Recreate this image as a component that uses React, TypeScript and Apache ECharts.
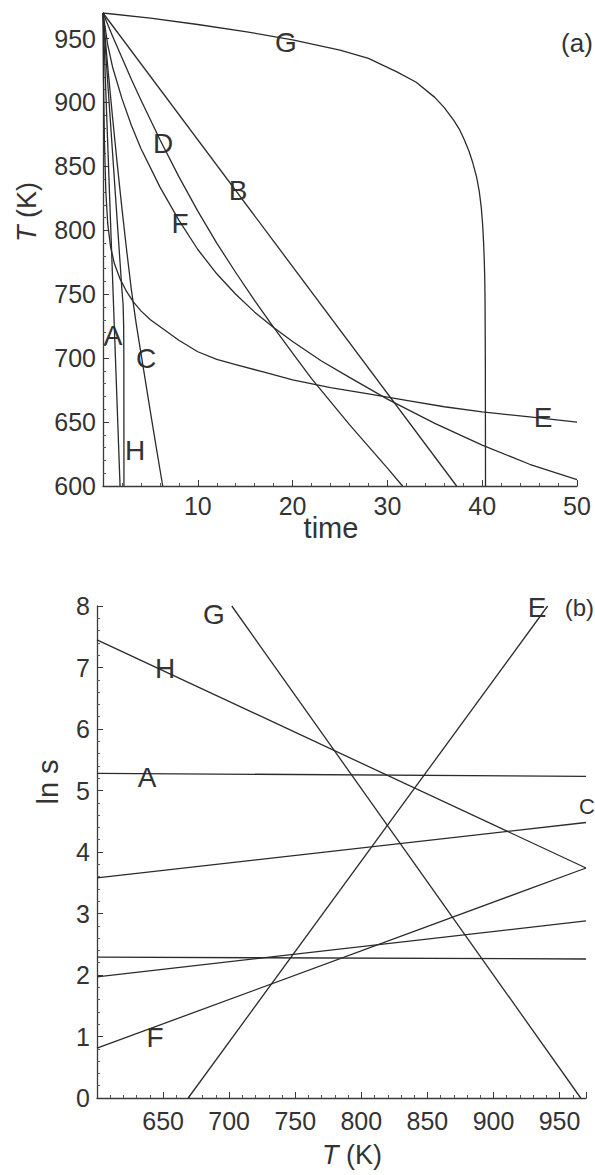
import React, { useEffect, useRef } from "react";
import * as echarts from "echarts";

// ---- Panel (a): temperature vs time ----
const timeTicks = [0, 10, 20, 30, 40, 50];
const tempTicksA = [600, 650, 700, 750, 800, 850, 900, 950];

const aG_t = [0, 5, 10, 15, 20, 25, 28, 31, 33, 35, 36, 37, 37.6, 38.1, 38.6, 39.0, 39.4, 39.7, 39.9, 40.05, 40.15, 40.22, 40.27, 40.3, 40.33, 40.35];
const aG_T = [970, 966, 961, 955.5, 949, 941, 934.5, 924, 916, 904, 896, 886, 879, 871, 862, 853, 842, 830, 818, 804, 790, 776, 762, 745, 700, 600];

const aE_t = [0, 0.05, 0.15, 0.3, 0.5, 0.8, 1.2, 1.8, 2.5, 3.2, 4, 5, 6.5, 8, 10, 12, 14, 17, 20, 24, 28, 32, 36, 40, 45, 50];
const aE_T = [970, 920, 870, 830, 805, 787, 774, 762, 752, 744, 737, 730, 722, 714, 705, 699, 695, 689, 683, 677, 672, 667, 662, 658, 654, 650];

const aC_t = [0, 0.5, 1, 1.5, 2, 2.5, 3, 3.5, 4, 4.5, 5, 5.6, 6.3];
const aC_T = [970, 928, 889, 852, 817, 784, 753, 727, 704, 681, 658, 631, 600];

const aD_t = [0, 1, 2, 3, 4, 6, 8, 10, 12, 14, 16, 18, 20, 22, 24, 26, 28, 30, 31.6];
const aD_T = [970, 952, 935, 918, 902, 871, 842, 815, 790, 767, 745, 724, 704, 684, 666, 648, 631, 614, 600];

const aF_t = [0, 0.5, 1, 2, 3, 4, 6, 8, 10, 12, 14, 16, 18, 20, 23, 26, 30, 35, 40, 45, 50];
const aF_T = [970, 945, 928, 903, 882, 864, 834, 808, 785, 766, 750, 736, 724, 713, 698, 685, 668, 649, 632, 617, 605];

const aB_t = [0, 37.3];
const aB_T = [970, 600];

const aA_t = [0, 1.8];
const aA_T = [970, 600];

const aH_t = [0, 2.0, 2.12, 2.18, 2.2, 2.21];
const aH_T = [970, 753, 742, 725, 700, 600];

// ---- Panel (b): ln s vs T ----
const tempTicksB = [650, 700, 750, 800, 850, 900, 950];
const lnsTicks = [0, 1, 2, 3, 4, 5, 6, 7, 8];

const bH_T = [600, 970];
const bH_s = [7.45, 3.74];
const bA_T = [600, 970];
const bA_s = [5.28, 5.23];
const bC_T = [600, 970];
const bC_s = [3.58, 4.48];
const bB_T = [600, 970];
const bB_s = [2.29, 2.26];
const bD_T = [600, 970];
const bD_s = [1.97, 2.88];
const bF_T = [600, 970];
const bF_s = [0.81, 3.74];
const bG_T = [702, 966];
const bG_s = [8, 0];
const bE_T = [669, 941];
const bE_s = [0, 8];

const FONT = '"Liberation Sans", Arial, Helvetica, sans-serif';
const INK = "#2b2b2b";
const TXT = "#333333";

function pairs(xs: number[], ys: number[]) {
  return xs.map((x, i) => [x, ys[i]]);
}

function lineSeries(name: string, xs: number[], ys: number[], idx: number) {
  return {
    name,
    type: "line",
    xAxisIndex: idx,
    yAxisIndex: idx,
    data: pairs(xs, ys),
    showSymbol: false,
    symbol: "none",
    smooth: false,
    lineStyle: { color: INK, width: 1.3, join: "round" },
    silent: true,
    clip: true,
  };
}

function axisCommon() {
  return {
    type: "value" as const,
    splitLine: { show: false },
    axisLine: { onZero: false, lineStyle: { color: "#3a3a3a", width: 1.3 } },
    axisTick: { show: true, inside: true, length: 6, lineStyle: { color: "#3a3a3a", width: 1 } },
    minorTick: { show: true, splitNumber: 5, length: 3, lineStyle: { color: "#555", width: 1 } },
    axisLabel: { color: TXT, fontFamily: FONT, fontSize: 25 },
  };
}

function label(text: string, x: number, y: number, size = 28, align = "center") {
  return {
    type: "text",
    x,
    y,
    silent: true,
    style: {
      text,
      fill: TXT,
      font: `${size}px ${FONT}`,
      textAlign: align,
      textVerticalAlign: "middle",
    },
  };
}

export default function App() {
  const ref = useRef<HTMLDivElement>(null);

  useEffect(() => {
    document.body.style.margin = "0";
    const el = ref.current;
    if (!el) return;
    const chart = echarts.init(el, undefined, { renderer: "svg", width: 595, height: 1175 });

    const x0 = axisCommon();
    const y0 = axisCommon();
    const x1 = axisCommon();
    const y1 = axisCommon();

    const option: any = {
      animation: false,
      backgroundColor: "#ffffff",
      grid: [
        { left: 103, top: 13, width: 474, height: 473 },
        { left: 97, top: 606, width: 489, height: 492 },
      ],
      xAxis: [
        {
          ...x0,
          gridIndex: 0,
          min: timeTicks[0],
          max: timeTicks[timeTicks.length - 1],
          interval: 10,
          axisLabel: {
            ...x0.axisLabel,
            margin: 7,
            formatter: (v: number) => (v === 0 ? "" : String(v)),
          },
        },
        {
          ...x1,
          gridIndex: 1,
          min: 600,
          max: 970,
          interval: 50,
          axisLabel: {
            ...x1.axisLabel,
            margin: 10,
            formatter: (v: number) => (tempTicksB.indexOf(v) >= 0 ? String(v) : ""),
          },
        },
      ],
      yAxis: [
        {
          ...y0,
          gridIndex: 0,
          min: 600,
          max: 970,
          interval: 50,
          axisLabel: {
            ...y0.axisLabel,
            margin: 7,
            formatter: (v: number) => (tempTicksA.indexOf(v) >= 0 ? String(v) : ""),
          },
        },
        {
          ...y1,
          gridIndex: 1,
          min: 0,
          max: 8,
          interval: 1,
          axisLabel: {
            ...y1.axisLabel,
            margin: 7,
            formatter: (v: number) => (lnsTicks.indexOf(v) >= 0 ? String(v) : ""),
          },
        },
      ],
      series: [
        lineSeries("G", aG_t, aG_T, 0),
        lineSeries("E", aE_t, aE_T, 0),
        lineSeries("C", aC_t, aC_T, 0),
        lineSeries("D", aD_t, aD_T, 0),
        lineSeries("F", aF_t, aF_T, 0),
        lineSeries("B", aB_t, aB_T, 0),
        lineSeries("A", aA_t, aA_T, 0),
        lineSeries("H", aH_t, aH_T, 0),
        lineSeries("bH", bH_T, bH_s, 1),
        lineSeries("bA", bA_T, bA_s, 1),
        lineSeries("bC", bC_T, bC_s, 1),
        lineSeries("bB", bB_T, bB_s, 1),
        lineSeries("bD", bD_T, bD_s, 1),
        lineSeries("bF", bF_T, bF_s, 1),
        lineSeries("bG", bG_T, bG_s, 1),
        lineSeries("bE", bE_T, bE_s, 1),
      ],
      graphic: [
        // panel (a) curve labels
        label("G", 286, 42),
        label("D", 163, 143),
        label("B", 238, 190),
        label("F", 180, 223),
        label("A", 113, 335),
        label("C", 146, 358),
        label("H", 135, 450),
        label("E", 543, 417),
        label("(a)", 577, 43, 26),
        // panel (a) axis titles
        label("time", 331, 528, 29),
        {
          type: "text",
          x: 27,
          y: 212,
          rotation: Math.PI / 2,
          silent: true,
          style: {
            text: "{i|T} (K)",
            fill: TXT,
            font: `27px ${FONT}`,
            textAlign: "center",
            textVerticalAlign: "middle",
            rich: { i: { fontStyle: "italic", fontSize: 27, fontFamily: FONT, fill: TXT } },
          },
        },
        // panel (b) curve labels
        label("G", 214, 614),
        label("E", 537, 607),
        label("(b)", 594, 607, 24, "right"),
        label("H", 165, 668),
        label("A", 147, 777),
        label("C", 595, 806, 22, "right"),
        label("F", 155, 1037),
        // panel (b) axis titles
        {
          type: "text",
          x: 48,
          y: 782,
          rotation: Math.PI / 2,
          silent: true,
          style: {
            text: "ln s",
            fill: TXT,
            font: `29px ${FONT}`,
            textAlign: "center",
            textVerticalAlign: "middle",
          },
        },
        {
          type: "text",
          x: 352,
          y: 1155,
          silent: true,
          style: {
            text: "{i|T} (K)",
            fill: TXT,
            font: `27px ${FONT}`,
            textAlign: "center",
            textVerticalAlign: "middle",
            rich: { i: { fontStyle: "italic", fontSize: 27, fontFamily: FONT, fill: TXT } },
          },
        },
      ],
    };

    chart.setOption(option);
    return () => {
      chart.dispose();
    };
  }, []);

  return <div ref={ref} style={{ width: 595, height: 1175, position: "absolute", left: 0, top: 0 }} />;
}
